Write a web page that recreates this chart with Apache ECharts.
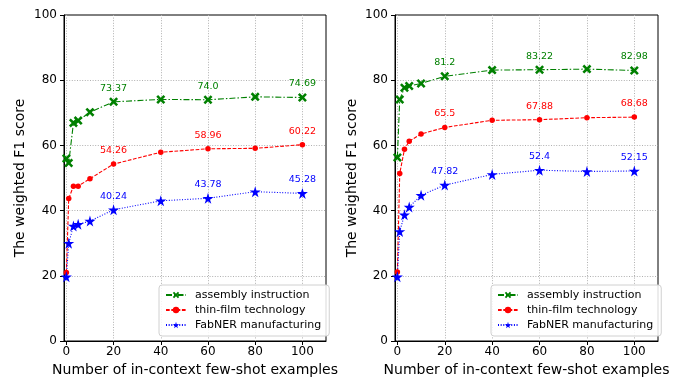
<!DOCTYPE html>
<html>
<head>
<meta charset="utf-8">
<script src="https://cdn.jsdelivr.net/npm/echarts@6/dist/echarts.min.js"></script>
<style>html,body{margin:0;padding:0;background:#fff;}#c{width:683px;height:382px;}</style>
</head>
<body>
<div id="c"></div>
<script>
// ---- data ----
const shots = [0, 1, 3, 5, 10, 20, 40, 60, 80, 100];
const xTicks = [0, 20, 40, 60, 80, 100];
const seriesNames = ['assembly instruction', 'thin-film technology', 'FabNER manufacturing'];

const assemblyLeft = [56.0, 54.6, 66.9, 67.6, 70.2, 73.37, 74.1, 74.0, 74.9, 74.69];
const thinFilmLeft = [21.0, 43.7, 47.5, 47.5, 49.8, 54.26, 57.9, 58.96, 59.1, 60.22];
const fabnerLeft   = [19.7, 30.0, 35.3, 35.8, 36.8, 40.24, 43.0, 43.78, 45.8, 45.28];

const assemblyRight = [56.3, 74.1, 77.7, 78.2, 79.0, 81.2, 83.1, 83.22, 83.4, 82.98];
const thinFilmRight = [21.2, 51.4, 58.8, 61.3, 63.5, 65.5, 67.7, 67.88, 68.5, 68.68];
const fabnerRight   = [19.7, 33.6, 38.7, 41.1, 44.7, 47.82, 51.1, 52.4, 52.0, 52.15];

const labelIdx = [5, 7, 9];
const assemblyLeftLabels  = ['73.37', '74.0', '74.69'];
const thinFilmLeftLabels  = ['54.26', '58.96', '60.22'];
const fabnerLeftLabels    = ['40.24', '43.78', '45.28'];
const assemblyRightLabels = ['81.2', '83.22', '82.98'];
const thinFilmRightLabels = ['65.5', '67.88', '68.68'];
const fabnerRightLabels   = ['47.82', '52.4', '52.15'];

// ---- styles ----
const FONT = 'DejaVu Sans';
const crossPath = 'path://M2,0 L5,3 L8,0 L10,2 L7,5 L10,8 L8,10 L5,7 L2,10 L0,8 L3,5 L0,2 Z';
const starPath = 'path://M50,0 L61,35 L98,35 L68,57 L79,91 L50,70 L21,91 L32,57 L2,35 L39,35 Z';
const styles = [
  {color: '#008000', symbol: crossPath, size: 9, dash: [6, 2, 1.5, 2]},
  {color: '#ff0000', symbol: 'circle', size: 5.5, dash: [3.7, 1.6]},
  {color: '#0000ff', symbol: starPath, size: 11, dash: [1, 1.65]}
];

function makeSeries(name, vals, labels, st, gi) {
  const data = shots.map((x, i) => {
    const k = labelIdx.indexOf(i);
    if (k >= 0) {
      return {value: [x, vals[i]], label: {show: true, formatter: labels[k]}};
    }
    return [x, vals[i]];
  });
  return {
    type: 'line', name: name, xAxisIndex: gi, yAxisIndex: gi,
    data: data, symbol: st.symbol, symbolSize: st.size, showSymbol: true,
    clip: false,
    itemStyle: {color: st.color},
    lineStyle: {color: st.color, width: 1.1, type: st.dash},
    label: {show: false, position: 'inside', offset: [0, -13.5], fontSize: 9.5, color: st.color, fontFamily: FONT},
    emphasis: {disabled: true}
  };
}

const grids = [
  {left: 64, top: 15, width: 262, height: 327},
  {left: 395, top: 15, width: 263, height: 327}
].map(g => Object.assign(g, {show: true, borderColor: '#000', borderWidth: 1, backgroundColor: 'transparent', containLabel: false}));

const xAxes = [0, 1].map(i => ({
  type: 'value', gridIndex: i, min: -1, max: 110,
  name: 'Number of in-context few-shot examples', nameLocation: 'middle', nameGap: 22,
  nameTextStyle: {fontSize: 14, color: '#000', fontFamily: FONT},
  axisLine: {show: true, onZero: false, lineStyle: {color: '#000', width: 1}},
  axisTick: {show: true, length: 4, customValues: xTicks, lineStyle: {color: '#000'}},
  axisLabel: {customValues: xTicks, fontSize: 12, color: '#000', margin: 5, fontFamily: FONT},
  splitLine: {show: true, lineStyle: {color: '#b0b0b0', width: 1, type: [1, 1.6]}}
}));

const yAxes = [0, 1].map(i => ({
  type: 'value', gridIndex: i, min: 0, max: 100, interval: 20,
  name: 'The weighted F1 score', nameLocation: 'middle', nameGap: i === 0 ? 37 : 36,
  nameTextStyle: {fontSize: 14, color: '#000', fontFamily: FONT},
  axisLine: {show: true, onZero: false, lineStyle: {color: '#000', width: 1}},
  axisTick: {show: true, length: 4, lineStyle: {color: '#000'}},
  axisLabel: {fontSize: 12, color: '#000', margin: 7, fontFamily: FONT},
  splitLine: {show: true, showMinLine: false, showMaxLine: false, lineStyle: {color: '#b0b0b0', width: 1, type: [1, 1.6]}}
}));

const legendBase = {
  orient: 'vertical', data: seriesNames,
  itemWidth: 20, itemHeight: 8, itemGap: 1,
  padding: [3, 8, 4, 6],
  textStyle: {fontSize: 11, color: '#000', lineHeight: 14, fontFamily: FONT, padding: [0, 0, 0, 4]},
  backgroundColor: 'rgba(255,255,255,0.85)', borderColor: '#d0d0d0', borderWidth: 1, borderRadius: 3,
  selectedMode: false
};

const series = [
  makeSeries(seriesNames[0], assemblyLeft, assemblyLeftLabels, styles[0], 0),
  makeSeries(seriesNames[1], thinFilmLeft, thinFilmLeftLabels, styles[1], 0),
  makeSeries(seriesNames[2], fabnerLeft, fabnerLeftLabels, styles[2], 0),
  makeSeries(seriesNames[0], assemblyRight, assemblyRightLabels, styles[0], 1),
  makeSeries(seriesNames[1], thinFilmRight, thinFilmRightLabels, styles[1], 1),
  makeSeries(seriesNames[2], fabnerRight, fabnerRightLabels, styles[2], 1)
];

const chart = echarts.init(document.getElementById('c'), null, {renderer: 'canvas'});
chart.setOption({
  animation: false,
  backgroundColor: '#fff',
  textStyle: {fontFamily: FONT},
  grid: grids,
  xAxis: xAxes,
  yAxis: yAxes,
  legend: [
    Object.assign({}, legendBase, {left: 159, top: 285}),
    Object.assign({}, legendBase, {left: 491, top: 285})
  ],
  series: series
});
</script>
</body>
</html>
